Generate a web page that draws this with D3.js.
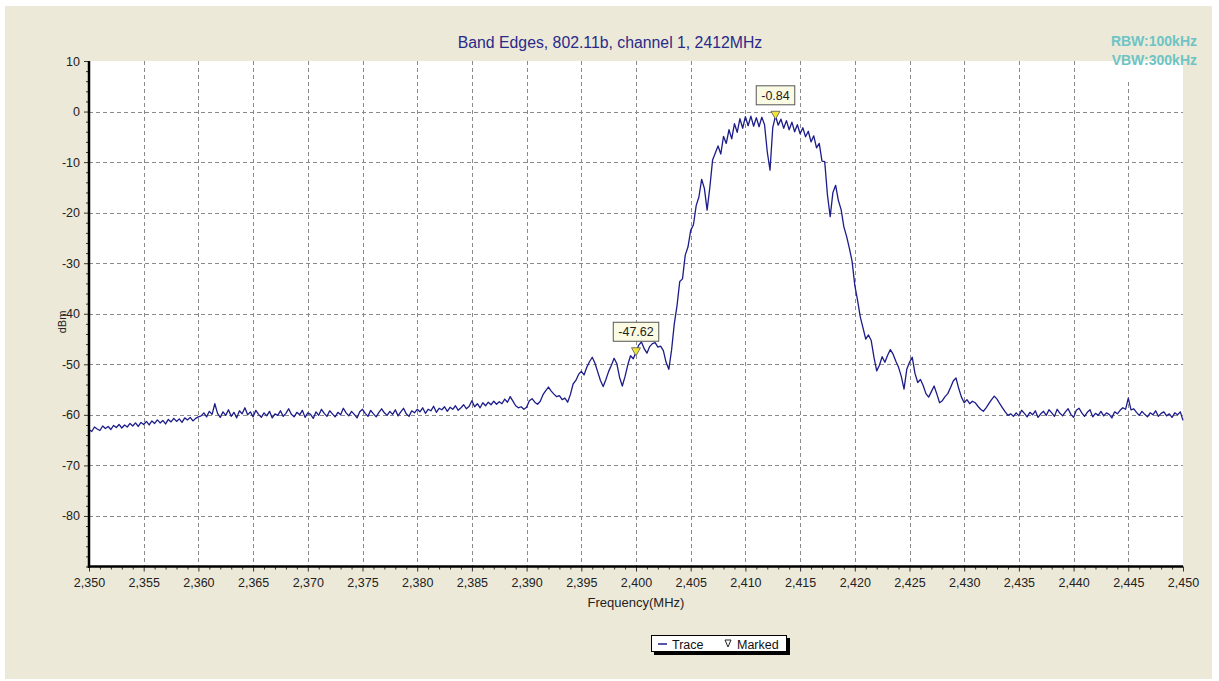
<!DOCTYPE html>
<html><head><meta charset="utf-8">
<script src="https://cdn.jsdelivr.net/npm/d3@7"></script>
<style>html,body{margin:0;padding:0;background:#fff;} svg{display:block;font-family:"Liberation Sans",Arial,sans-serif;}</style>
</head><body><svg id="c" width="1219" height="681"></svg>
<script>
const chartTitle = "Band Edges, 802.11b, channel 1, 2412MHz";
const bandwidthLines = ["RBW:100kHz", "VBW:300kHz"];
const xLabel = "Frequency(MHz)";
const yLabel = "dBm";
const legendItems = ["Trace", "Marked"];
const sweepStartMHz = 2350, sweepStopMHz = 2450;
const xTickValues = [2350,2355,2360,2365,2370,2375,2380,2385,2390,2395,2400,2405,2410,2415,2420,2425,2430,2435,2440,2445,2450];
const yTickValues = [10,0,-10,-20,-30,-40,-50,-60,-70,-80];
const markerFreq = [2400, 2412.75];
const markerDbm = [-47.62, -0.84];
const markerText = ["-47.62", "-0.84"];
// trace, one reading every 0.25 MHz from 2350 to 2450 MHz
const traceDbm = [
-62.9,-63.3,-62.4,-62.8,-63.1,-62.2,-62.7,-62.3,-62.9,-62.1,
-62.5,-61.9,-62.6,-62.0,-62.4,-61.7,-62.2,-61.6,-62.3,-61.5,
-61.9,-61.3,-62.0,-61.2,-61.7,-61.0,-61.6,-61.1,-61.8,-60.9,
-61.4,-60.7,-61.3,-60.8,-61.5,-60.6,-61.0,-60.5,-61.2,-60.7,
-60.4,
-60.2,-59.6,-60.4,-59.3,-59.9,-57.8,-59.7,-60.5,-59.4,-60.1,
-59.0,-60.3,-59.5,-60.6,-59.2,-59.8,-58.6,-60.0,-59.4,-60.4,
-59.1,-59.9,-60.5,-59.6,-60.2,-59.3,-60.6,-59.8,-60.1,-59.2,
-60.3,-59.7,-58.8,-59.9,-60.4,-59.5,-60.0,-59.1,-60.5,-59.6,
-59.9,-60.7,-59.4,-60.1,-58.9,-59.7,-60.3,-59.2,-59.8,-60.4,
-59.5,-60.0,-58.7,-59.6,-60.2,-59.3,-59.9,-60.6,-59.4,-58.9,
-59.7,-60.3,-59.1,-59.8,-60.4,-59.5,-58.8,-59.6,-60.1,-59.3,
-59.9,-59.0,-60.2,-59.4,-58.7,-59.8,-60.3,-59.2,-59.6,-58.9,
-59.4,-58.6,-59.7,-58.9,-59.2,-58.3,-59.5,-58.7,-59.0,-58.4,
-59.3,-58.5,-58.9,-58.2,-59.1,-58.6,-58.0,-58.8,-58.3,-57.2,
-58.4,-57.8,-58.6,-57.6,-58.2,-57.5,-58.0,-57.3,-57.9,-57.4,
-57.8,-56.9,-57.5,-56.4,-57.3,-58.2,-58.6,-58.4,-58.9,-58.5,
-57.2,-56.8,-57.5,-57.9,-57.3,-56.0,-55.2,-54.5,-55.3,-55.9,
-56.4,-56.2,-57.0,-56.7,-57.5,-56.0,-53.9,-53.2,-52.0,-51.4,
-52.1,-50.6,-49.5,-48.6,-49.8,-51.5,-53.2,-54.4,-53.0,-51.4,
-50.2,-48.8,-49.9,-52.6,-54.3,-52.4,-50.1,-48.3,-48.9,-47.62,
-46.2,-45.6,-46.9,-47.8,-46.5,-45.9,-45.7,-46.6,-46.4,-47.3,
-49.6,-51.0,-47.2,-42.0,-38.4,-33.6,-33.1,-28.4,-26.8,-23.5,
-22.4,-18.6,-16.9,-13.4,-15.2,-19.5,-15.0,-9.6,-8.2,-6.8,
-8.4,-4.9,-6.3,-3.6,-5.4,-2.4,-4.1,-1.4,-3.3,-1.0,
-2.8,-0.9,-2.9,-1.2,-3.0,-1.1,-2.6,-8.0,-11.6,-3.2,
-0.84,-2.7,-1.5,-3.3,-1.8,-3.6,-2.1,-4.0,-2.6,-4.4,
-3.2,-5.0,-3.9,-6.0,-4.8,-7.2,-6.3,-9.8,-9.9,-16.5,
-20.8,-16.0,-14.6,-17.6,-19.4,-22.8,-24.7,-27.0,-29.6,-34.4,
-37.3,-40.6,-42.8,-45.0,-44.2,-45.3,-48.6,-51.3,-50.2,-48.5,
-49.6,-48.2,-47.1,-48.0,-49.4,-50.6,-52.4,-54.9,-51.0,-49.6,
-48.6,-51.8,-53.6,-53.0,-54.2,-55.8,-56.5,-55.4,-54.3,-55.9,
-57.6,-57.2,-56.4,-55.8,-54.6,-53.3,-52.7,-54.8,-56.5,-57.6,
-57.0,-57.8,-57.3,-57.6,-58.3,-58.9,-59.3,-58.6,-57.8,-57.0,
-56.3,-56.9,-57.8,-58.6,-59.4,-60.1,-59.8,-60.3,-59.6,-60.2,
-59.1,-59.7,-60.4,-59.5,-60.0,-59.2,-60.5,-59.8,-59.3,-60.1,
-59.0,-59.6,-60.3,-58.9,-59.7,-60.2,-59.4,-58.8,-59.9,-60.5,
-59.1,-58.7,-59.6,-60.3,-59.5,-59.0,-60.4,-59.7,-60.1,-59.3,
-60.2,-59.6,-59.9,-60.6,-59.4,-59.8,-59.1,-58.6,-58.9,-56.7,
-59.0,-58.8,-59.5,-60.1,-59.3,-59.9,-60.4,-59.6,-60.0,-59.2,
-60.3,-59.7,-59.4,-60.2,-59.8,-60.5,-59.6,-60.0,-59.4,-61.1
];

const svg = d3.select("#c");
const W = 1219, H = 681;
const plot = {left: 89, right: 1183, top: 61, bottom: 566.5};
const x = d3.scaleLinear().domain([sweepStartMHz, sweepStopMHz]).range([plot.left, plot.right]);
const y = d3.scaleLinear().domain([-90, 10]).range([plot.bottom, plot.top]);
const stepMHz = (sweepStopMHz - sweepStartMHz) / (traceDbm.length - 1);
const trace = traceDbm.map((v, i) => ({f: sweepStartMHz + i * stepMHz, v}));

// background panel
svg.append("rect").attr("x", 0).attr("y", 0).attr("width", W).attr("height", H).attr("fill", "#ffffff");
svg.append("rect").attr("x", 5).attr("y", 6).attr("width", 1207).attr("height", 673).attr("fill", "#ECE9D8");
svg.append("rect").attr("x", plot.left).attr("y", plot.top).attr("width", plot.right - plot.left).attr("height", plot.bottom - plot.top).attr("fill", "#ffffff");

// grid
const grid = svg.append("g").attr("stroke", "#8a8a8a").attr("stroke-width", 1).attr("stroke-dasharray", "4,3");
grid.selectAll("line.v").data(xTickValues.filter(d => d > sweepStartMHz && d < sweepStopMHz)).join("line")
  .attr("x1", d => Math.round(x(d)) + 0.5).attr("x2", d => Math.round(x(d)) + 0.5)
  .attr("y1", plot.top).attr("y2", plot.bottom);
grid.selectAll("line.h").data(yTickValues.filter(d => d < 10)).join("line")
  .attr("y1", d => Math.round(y(d)) + 0.5).attr("y2", d => Math.round(y(d)) + 0.5)
  .attr("x1", plot.left).attr("x2", plot.right);

// trace
svg.append("path").datum(trace)
  .attr("fill", "none").attr("stroke", "#1c1c8a").attr("stroke-width", 1.3).attr("stroke-linejoin", "round")
  .attr("d", d3.line().x(d => x(d.f)).y(d => y(d.v)));

// axes
const tickFont = 12.5;
const minorX = d3.range(sweepStartMHz, sweepStopMHz + 0.5, 1).filter(d => !xTickValues.includes(d));
const gxMinor = svg.append("g").attr("transform", `translate(0,${plot.bottom})`)
  .call(d3.axisBottom(x).tickValues(minorX).tickSize(3).tickFormat(""));
gxMinor.select(".domain").remove();
gxMinor.selectAll("line").attr("stroke", "#333");
const gx = svg.append("g").attr("transform", `translate(0,${plot.bottom})`)
  .call(d3.axisBottom(x).tickValues(xTickValues).tickSize(5).tickPadding(7).tickFormat(d3.format(",")));
gx.select(".domain").remove();
gx.selectAll("line").attr("stroke", "#333");
gx.selectAll("text").attr("font-size", tickFont).attr("fill", "#222").attr("font-family", "Liberation Sans, Arial, sans-serif");

const minorY = d3.range(-90, 10.5, 2).filter(d => !yTickValues.includes(d));
const gyMinor = svg.append("g").attr("transform", `translate(${plot.left},0)`)
  .call(d3.axisLeft(y).tickValues(minorY).tickSize(3).tickFormat(""));
gyMinor.select(".domain").remove();
gyMinor.selectAll("line").attr("stroke", "#333");
const gy = svg.append("g").attr("transform", `translate(${plot.left},0)`)
  .call(d3.axisLeft(y).tickValues(yTickValues).tickSize(5).tickPadding(4).tickFormat(d => String(d)));
gy.select(".domain").remove();
gy.selectAll("line").attr("stroke", "#333");
gy.selectAll("text").attr("font-size", tickFont).attr("fill", "#222").attr("font-family", "Liberation Sans, Arial, sans-serif");

// axis lines
svg.append("line").attr("x1", plot.left).attr("x2", plot.left).attr("y1", plot.top).attr("y2", plot.bottom + 1.5)
  .attr("stroke", "#000").attr("stroke-width", 2.5);
svg.append("line").attr("x1", plot.left - 1.2).attr("x2", plot.right).attr("y1", plot.bottom).attr("y2", plot.bottom)
  .attr("stroke", "#000").attr("stroke-width", 2.5);

// title & labels
svg.append("text").attr("x", 610).attr("y", 48).attr("text-anchor", "middle")
  .attr("font-size", 15.8).attr("fill", "#2a2a8a").text(chartTitle);
svg.append("text").attr("x", 636).attr("y", 607).attr("text-anchor", "middle")
  .attr("font-size", 13).attr("fill", "#222").text(xLabel);
svg.append("text").attr("transform", "translate(66,322) rotate(-90)").attr("text-anchor", "middle")
  .attr("font-size", 11).attr("fill", "#222").text(yLabel);

// RBW / VBW
svg.append("rect").attr("x", 1094).attr("y", plot.top).attr("width", plot.right - 1094).attr("height", 20).attr("fill", "#ffffff");
svg.selectAll("text.bw").data(bandwidthLines).join("text").attr("class", "bw")
  .attr("x", 1197).attr("y", (d, i) => 46 + i * 19).attr("text-anchor", "end")
  .attr("font-size", 14).attr("font-weight", "bold").attr("fill", "#6cc4c4").text(d => d);

// markers
const mk = svg.append("g");
markerFreq.forEach((f, i) => {
  const mx = x(f), my = y(markerDbm[i]);
  const g = mk.append("g");
  const t = g.append("text").attr("x", mx).attr("y", my - 16).attr("text-anchor", "middle")
    .attr("font-size", 12.5).attr("fill", "#222").text(markerText[i]);
  const bb = t.node().getBBox();
  g.insert("rect", "text").attr("x", bb.x - 5).attr("y", my - 30).attr("width", bb.width + 10).attr("height", 19)
    .attr("fill", "#fbfbe4").attr("stroke", "#555").attr("stroke-width", 1);
  g.append("path").attr("d", `M${mx - 4.5},${my - 4.5} L${mx + 4.5},${my - 4.5} L${mx},${my + 3.5} Z`)
    .attr("fill", "#f2e33c").attr("stroke", "#555").attr("stroke-width", 0.8);
});

// legend
const lg = svg.append("g");
lg.append("rect").attr("x", 654).attr("y", 638).attr("width", 136).attr("height", 17).attr("fill", "#000");
lg.append("rect").attr("x", 651.5).attr("y", 635.5).attr("width", 135).attr("height", 16).attr("fill", "#fff").attr("stroke", "#000").attr("stroke-width", 1);
lg.append("line").attr("x1", 658).attr("x2", 667).attr("y1", 644).attr("y2", 644).attr("stroke", "#1c1c8a").attr("stroke-width", 1.5);
lg.append("text").attr("x", 672).attr("y", 648.5).attr("font-size", 12.5).attr("fill", "#111").text(legendItems[0]);
lg.append("path").attr("d", "M725,640 L731,640 L728,647 Z").attr("fill", "none").attr("stroke", "#222").attr("stroke-width", 1);
lg.append("text").attr("x", 737).attr("y", 648.5).attr("font-size", 12.5).attr("fill", "#111").text(legendItems[1]);
</script></body></html>
